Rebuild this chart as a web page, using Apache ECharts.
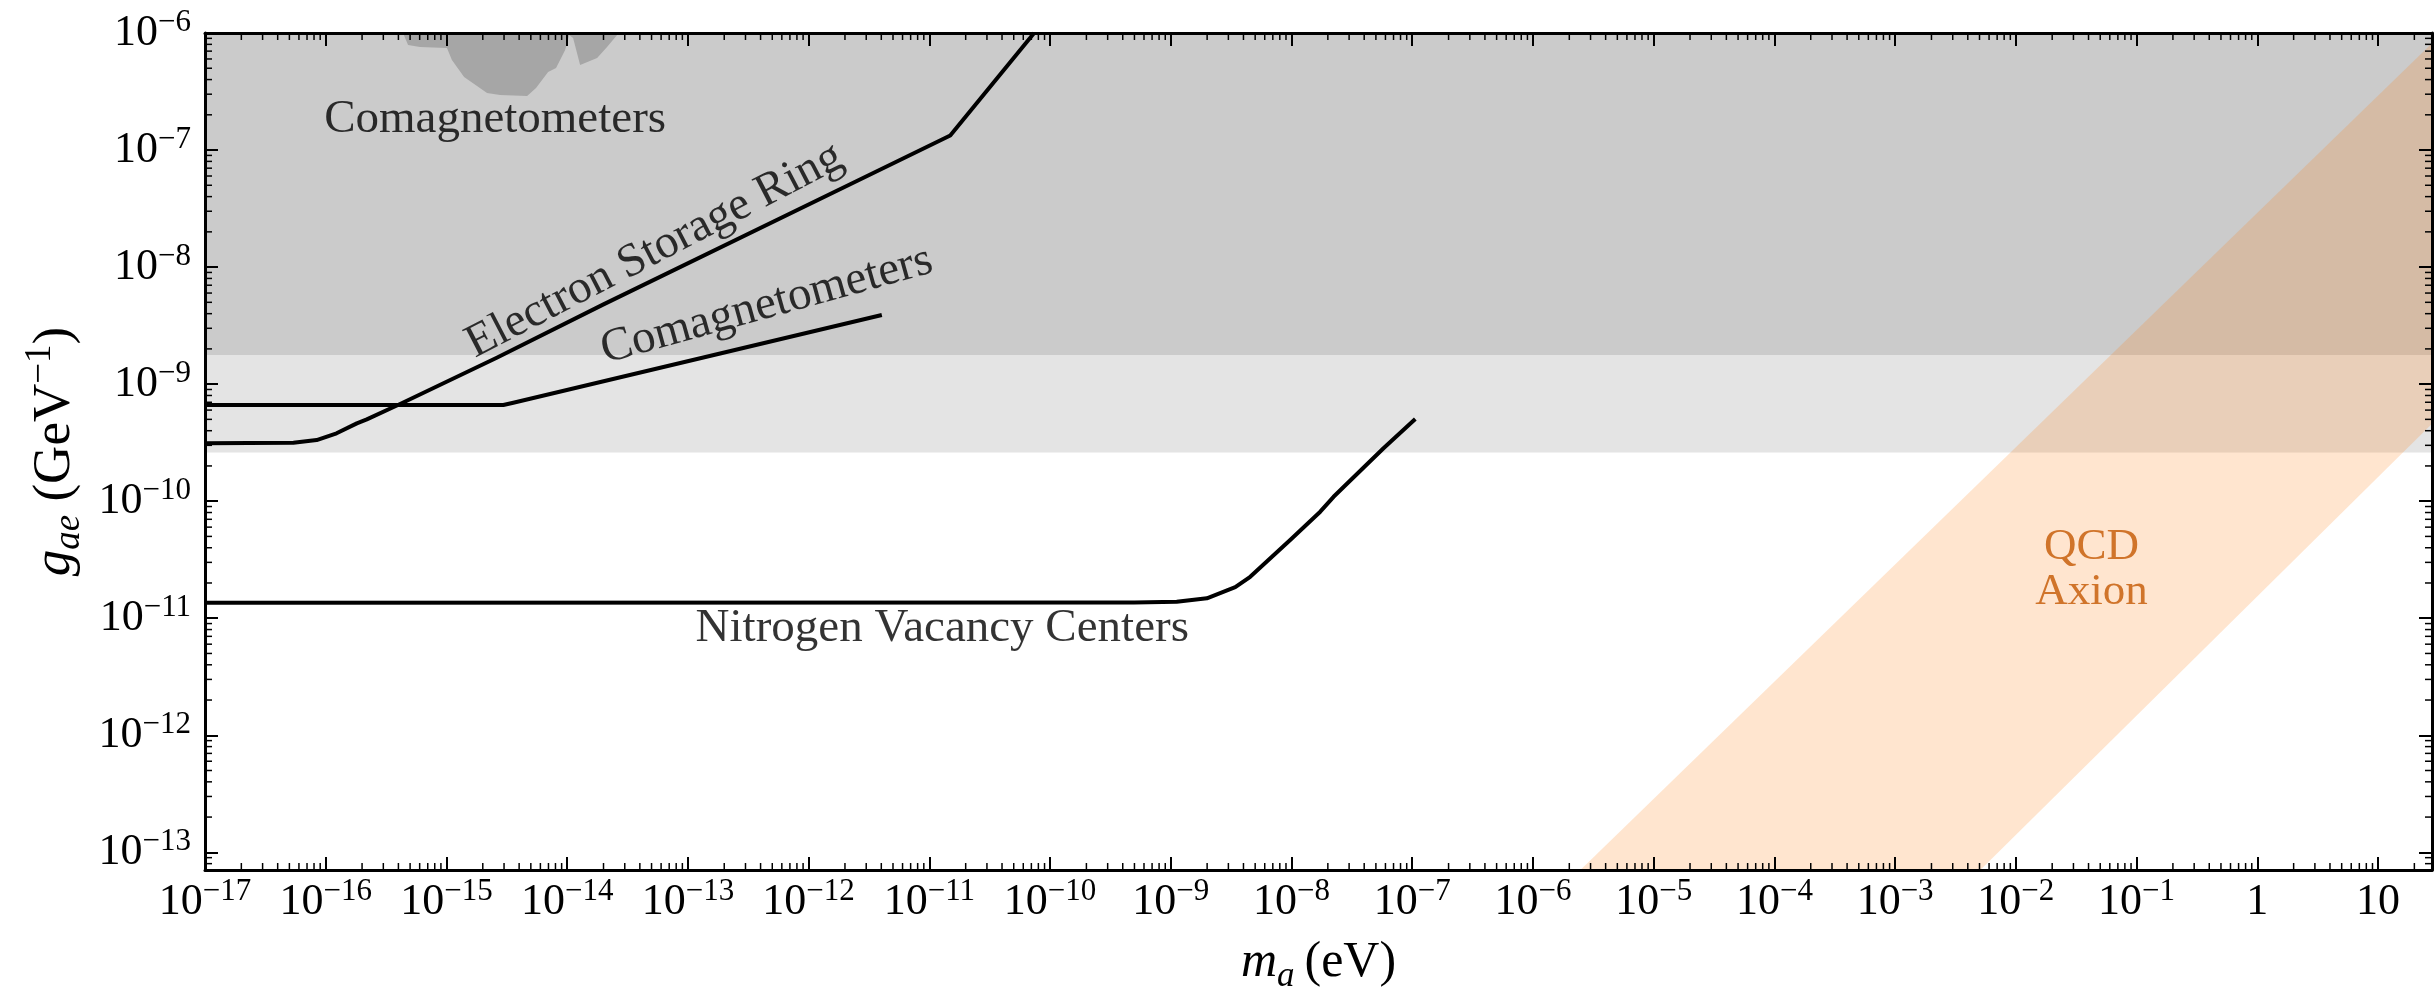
<!DOCTYPE html>
<html>
<head>
<meta charset="utf-8">
<title>g_ae limits</title>
<script src="https://cdn.jsdelivr.net/npm/echarts@6/dist/echarts.min.js"></script>
<style>
html, body { margin: 0; padding: 0; background: #fff; }
#chart { width: 2434px; height: 990px; }
</style>
</head>
<body>
<div id="chart"></div>
<script>
// axis limits (m_a in eV, g_ae in GeV^-1)
const xRange = [1e-17, 28]
const yRange = [7.06e-14, 1e-6]
// decades that carry a tick label
const xTickExps = [-17, -16, -15, -14, -13, -12, -11, -10, -9, -8, -7, -6, -5, -4, -3, -2, -1, 0, 1]
const yTickExps = [-13, -12, -11, -10, -9, -8, -7, -6]
const minorSteps = [2, 3, 4, 5, 6, 7, 8, 9]

// grey excluded bands (g range)
const darkBand = [1.77e-9, 1e-6]
const lightBand = [2.61e-10, 1.77e-9]

// comagnetometer blob at the top
const blobM = [4.37e-16, 4.81e-16, 6.04e-16, 1.01e-15, 1.11e-15, 1.40e-15, 2.17e-15, 2.78e-15, 4.66e-15, 5.52e-15, 6.95e-15, 8.09e-15, 9.62e-15, 1.04e-14, 1.12e-14, 1.28e-14, 1.77e-14, 2.14e-14, 2.59e-14, 2.69e-14]
const blobG = [1e-6, 7.89e-7, 7.59e-7, 7.45e-7, 5.87e-7, 4.21e-7, 3.07e-7, 2.95e-7, 2.90e-7, 3.39e-7, 4.65e-7, 5.02e-7, 7.16e-7, 9.62e-7, 9.06e-7, 5.33e-7, 6.11e-7, 7.59e-7, 9.62e-7, 1e-6]

// QCD axion band corners
const qcdM = [2.47e-6, 28.2, 28.2, 5.08e-3]
const qcdG = [7.06e-14, 8.22e-7, 4.62e-10, 7.06e-14]

// limit curves
const ringM = [1e-17, 5.40e-17, 8.41e-17, 1.23e-16, 1.81e-16, 2.19e-16, 4.13e-16, 2.61e-15, 2.0e-14, 2.21e-12, 1.49e-11, 7.38e-11]
const ringG = [3.12e-10, 3.16e-10, 3.33e-10, 3.80e-10, 4.62e-10, 5.0e-10, 6.76e-10, 1.68e-9, 4.8e-9, 5.1e-8, 1.33e-7, 1e-6]
const comagM = [1e-17, 2.96e-15, 3.58e-15, 4.04e-12]
const comagG = [6.64e-10, 6.64e-10, 6.93e-10, 3.90e-9]
const nvM = [1e-17, 5e-10, 1.12e-9, 1.99e-9, 3.42e-9, 4.55e-9, 9.75e-9, 1.73e-8, 2.23e-8, 5.78e-8, 1.06e-7]
const nvG = [1.355e-11, 1.36e-11, 1.38e-11, 1.48e-11, 1.84e-11, 2.26e-11, 4.66e-11, 8.13e-11, 1.09e-10, 2.83e-10, 5.04e-10]

// text annotations
const noteTexts = ['Comagnetometers', 'Electron Storage Ring', 'Comagnetometers', 'Nitrogen Vacancy Centers']
const noteM = [2.53e-15, 5.3e-14, 4.5e-13, 1.28e-11]
const noteG = [1.81e-7, 1.38e-8, 4.7e-9, 8.2e-12]
const noteAngles = [0, 27.5, 15.5, 0]
const qcdNote = [0.0423, 2.58e-11]

const serif = 'Liberation Serif'
const zip = (a, b) => a.map((v, i) => [v, b[i]])

// tick label: 10^n with a superscript
function expLabel(exps) {
  return v => {
    const lg = Math.log10(v)
    const e = Math.round(lg)
    if (Math.abs(lg - e) > 1e-6 || exps.indexOf(e) < 0) return ''
    if (e === 0) return '{b|1}'
    if (e === 1) return '{b|10}'
    return '{b|10}{s|' + (e < 0 ? '\u2212' + (-e) : e) + '}'
  }
}
const tickRich = {
  b: { fontFamily: serif, fontSize: 44, lineHeight: 52, color: '#000' },
  s: { fontFamily: serif, fontSize: 31, lineHeight: 31, verticalAlign: 'top', color: '#000' }
}
function nameRich(size) {
  const small = Math.round(size * 0.7)
  const lh = Math.round(size * 1.24)
  return {
    i: { fontFamily: serif, fontStyle: 'italic', fontSize: size, lineHeight: lh, color: '#000' },
    sub: { fontFamily: serif, fontStyle: 'italic', fontSize: small, lineHeight: small, verticalAlign: 'bottom', color: '#000' },
    n: { fontFamily: serif, fontSize: size, lineHeight: lh, color: '#000' },
    sup: { fontFamily: serif, fontSize: small, lineHeight: small, verticalAlign: 'top', color: '#000' }
  }
}

const frame = { show: true, onZero: false, lineStyle: { color: '#000', width: 3 } }
const majorTick = { show: true, inside: true, length: 13, lineStyle: { color: '#000', width: 2 } }

function logAxis(range, extra) {
  return Object.assign({
    type: 'log', logBase: 10, min: range[0], max: range[1], z: 10,
    axisLine: frame, axisTick: majorTick, splitLine: { show: false }, minorTick: { show: false },
    axisLabel: { show: false }
  }, extra)
}

// minor tick positions, 2..9 x 10^n inside the range
function minorValues(range) {
  const out = []
  for (let e = Math.floor(Math.log10(range[0])); e <= Math.ceil(Math.log10(range[1])); e++) {
    minorSteps.forEach(k => {
      const v = k * Math.pow(10, e)
      if (v > range[0] && v < range[1]) out.push(v)
    })
  }
  return out
}
const xMinor = minorValues(xRange)
const yMinor = minorValues(yRange)

function polygon(name, pts, fill, z) {
  return {
    type: 'custom', name: name, silent: true, clip: true, z: z,
    data: [pts[0]],
    renderItem: (params, api) => ({
      type: 'polygon',
      shape: { points: pts.map(p => api.coord(p)) },
      style: { fill: fill }
    })
  }
}
function limitLine(name, m, g) {
  return {
    type: 'line', name: name, data: zip(m, g), showSymbol: false, silent: true, z: 4,
    lineStyle: { color: '#000', width: 4, join: 'round' }
  }
}

const chart = echarts.init(document.getElementById('chart'))
chart.setOption({
  animation: false,
  backgroundColor: '#fff',
  grid: { left: 205, right: 2, top: 33, bottom: 120, outerBoundsMode: 'none' },
  xAxis: [
    logAxis(xRange, {
      position: 'bottom', interval: 1,
      axisLabel: { show: true, margin: 6, formatter: expLabel(xTickExps), rich: tickRich },
      name: '{i|m}{sub|a}{n|\u2009(eV)}', nameLocation: 'middle', nameGap: 62,
      nameTextStyle: { rich: nameRich(50) }
    }),
    logAxis(xRange, { position: 'top', interval: 1 })
  ],
  yAxis: [
    logAxis(yRange, {
      position: 'left',
      axisLabel: { show: true, margin: 14, formatter: expLabel(yTickExps), rich: tickRich },
      name: '{i|g}{sub|ae}{n| (GeV}{sup|\u22121}{n|)}', nameLocation: 'middle', nameGap: 113, nameRotate: 90,
      nameTextStyle: { rich: nameRich(53) }
    }),
    logAxis(yRange, { position: 'right' })
  ],
  series: [
    polygon('light band', [[xRange[0], lightBand[0]], [xRange[1], lightBand[0]], [xRange[1], lightBand[1]], [xRange[0], lightBand[1]]], '#e4e4e4', 1),
    polygon('dark band', [[xRange[0], darkBand[0]], [xRange[1], darkBand[0]], [xRange[1], darkBand[1]], [xRange[0], darkBand[1]]], '#cbcbcb', 1),
    polygon('comag blob', zip(blobM, blobG), '#a6a6a6', 2),
    polygon('QCD axion', zip(qcdM, qcdG), 'rgba(255,127,14,0.2)', 3),
    limitLine('Electron Storage Ring', ringM, ringG),
    limitLine('Comagnetometers', comagM, comagG),
    limitLine('Nitrogen Vacancy Centers', nvM, nvG),
    {
      type: 'scatter', name: 'notes', silent: true, z: 6, symbolSize: 1,
      itemStyle: { color: 'rgba(0,0,0,0)' },
      data: noteTexts.map((t, i) => ({ name: t, value: [noteM[i], noteG[i]], label: { rotate: noteAngles[i] } })),
      label: { show: true, position: 'inside', formatter: '{b}', fontFamily: serif, fontSize: 47, color: '#000', textBorderWidth: 0 }
    },
    {
      type: 'scatter', name: 'qcd note', silent: true, z: 6, symbolSize: 1,
      itemStyle: { color: 'rgba(0,0,0,0)' },
      data: [{ name: 'QCD\nAxion', value: qcdNote }],
      label: { show: true, position: 'inside', formatter: '{b}', fontFamily: serif, fontSize: 45, lineHeight: 45, color: '#c45800', textBorderWidth: 0 }
    },
    {
      // minor ticks on all four sides
      type: 'custom', name: 'minor ticks', silent: true, z: 9,
      data: [[1e-10, 1e-10]],
      renderItem: (params, api) => {
        const cs = params.coordSys
        const left = cs.x, right = cs.x + cs.width, top = cs.y, bottom = cs.y + cs.height
        const seg = (x1, y1, x2, y2) => ({ type: 'line', shape: { x1, y1, x2, y2 }, style: { stroke: '#000', lineWidth: 1.5 } })
        const children = []
        xMinor.forEach(v => {
          const px = api.coord([v, yRange[0]])[0]
          children.push(seg(px, bottom, px, bottom - 7), seg(px, top, px, top + 7))
        })
        yMinor.forEach(v => {
          const py = api.coord([xRange[0], v])[1]
          children.push(seg(left, py, left + 7, py), seg(right, py, right - 7, py))
        })
        return { type: 'group', children: children }
      }
    }
  ]
})
</script>
</body>
</html>
